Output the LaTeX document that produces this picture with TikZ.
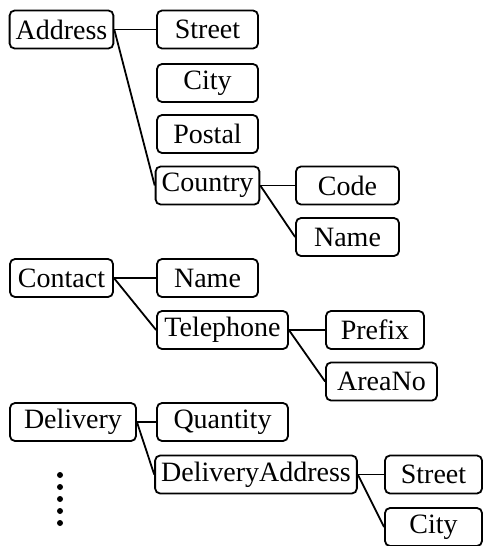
\documentclass[tikz,border=0pt]{standalone}
\usepackage{fontspec}
\setmainfont{Liberation Serif}
\usetikzlibrary{positioning}

\tikzset{
  field/.style={draw, rounded corners=5pt, line width=1.8pt, minimum height=38pt,
    inner xsep=6pt, font=\fontsize{28}{33}\selectfont},
  link/.style={line width=1.8pt}
}

\begin{document}
\begin{tikzpicture}[x=1pt,y=-1pt]
    \useasboundingbox (0,0) rectangle (483,546);

    % address group
    \node[field, minimum width=103pt] (address) at (61.5,29.5) {Address};
    \node[field, minimum width=101pt] (street) at (207.5,29.5) {Street};
    \node[field, minimum width=101pt] (city) at (207.5,83) {City};
    \node[field, minimum width=101pt] (postal) at (207.5,134) {Postal};
    \node[field, minimum width=101pt] (country) at (207.5,185.5) {Country};
    \node[field, minimum width=103pt] (code) at (347.5,185.5) {Code};
    \node[field, minimum width=103pt] (cname) at (347.5,237) {Name};

    % contact group
    \node[field, minimum width=103pt] (contact) at (61.5,278) {Contact};
    \node[field, minimum width=101pt] (name) at (207.5,278) {Name};
    \node[field, minimum width=131pt] (phone) at (222.5,330) {Telephone};
    \node[field, minimum width=98pt] (prefix) at (375,330) {Prefix};
    \node[field, minimum width=111pt] (areano) at (381.5,381.5) {AreaNo};

    % delivery group
    \node[field, minimum width=126pt] (delivery) at (73,422) {Delivery};
    \node[field, minimum width=131pt] (quantity) at (222.5,422) {Quantity};
    \node[field, minimum width=198pt] (daddress) at (256,474.5) {DeliveryAddress};
    \node[field, minimum width=97pt] (dstreet) at (433.5,474.5) {Street};
    \node[field, minimum width=97pt] (dcity) at (433.5,527) {City};

    \foreach \a/\b in {address/street, address/country, country/code, country/cname,
        contact/name, contact/phone, phone/prefix, phone/areano,
        delivery/quantity, delivery/daddress, daddress/dstreet, daddress/dcity} {
        \draw[link] (\a.east) -- (\b.west);
    }

    \foreach \y in {475,487,499,511,523} {
        \fill (60,\y) circle (3);
    }
\end{tikzpicture}
\end{document}
